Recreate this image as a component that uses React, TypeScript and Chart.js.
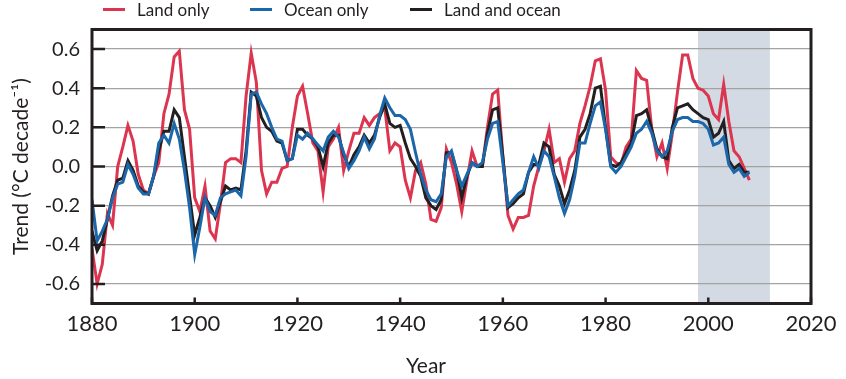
import { useEffect, useRef } from "react";
import { Chart, registerables } from "chart.js";

Chart.register(...registerables);

// ---- data (annual trend values, °C per decade) ----
const FIRST_YEAR = 1880;

const LAND_ONLY = [
  -0.42, -0.6, -0.5, -0.24, -0.3, 0.0, 0.1, 0.21, 0.13, -0.04,
  -0.12, -0.14, -0.05, 0.02, 0.27, 0.37, 0.56, 0.59, 0.29, 0.19,
  -0.16, -0.23, -0.1, -0.33, -0.37, -0.19, 0.02, 0.04, 0.04, 0.02,
  0.36, 0.58, 0.43, -0.02, -0.14, -0.08, -0.08, -0.01, 0.0, 0.2,
  0.36, 0.41, 0.27, 0.12, 0.08, -0.13, 0.1, 0.14, 0.2, -0.02,
  0.08, 0.17, 0.17, 0.25, 0.21, 0.25, 0.27, 0.3, 0.08, 0.12,
  0.1, -0.07, -0.16, -0.02, 0.02, -0.09, -0.27, -0.28, -0.21, 0.09,
  0.02, -0.09, -0.23, -0.07, 0.08, 0.0, 0.0, 0.2, 0.37, 0.39,
  0.05, -0.25, -0.32, -0.26, -0.26, -0.25, -0.1, 0.0, 0.08, 0.19,
  0.02, 0.04, -0.08, 0.04, 0.08, 0.22, 0.31, 0.41, 0.54, 0.55,
  0.39, 0.05, 0.02, 0.01, 0.1, 0.14, 0.49, 0.45, 0.44, 0.19,
  0.05, 0.12, -0.01, 0.17, 0.38, 0.57, 0.57, 0.45, 0.4, 0.39,
  0.36, 0.27, 0.24, 0.42, 0.23, 0.08, 0.05, -0.01, -0.07,
];

const OCEAN_ONLY = [
  -0.17, -0.38, -0.33, -0.27, -0.16, -0.09, -0.08, 0.01, -0.04, -0.11,
  -0.14, -0.14, -0.05, 0.12, 0.16, 0.12, 0.22, 0.14, -0.02, -0.21,
  -0.45, -0.31, -0.16, -0.23, -0.25, -0.16, -0.14, -0.13, -0.12, -0.15,
  0.05, 0.37, 0.38, 0.32, 0.27, 0.2, 0.14, 0.13, 0.03, 0.04,
  0.16, 0.14, 0.17, 0.14, 0.11, 0.08, 0.15, 0.18, 0.15, 0.07,
  -0.01, 0.03, 0.08, 0.15, 0.09, 0.14, 0.26, 0.35, 0.3, 0.26,
  0.26, 0.24, 0.19, 0.07, -0.04, -0.12, -0.17, -0.18, -0.14, 0.05,
  0.08, -0.02, -0.1, -0.04, 0.02, 0.0, 0.02, 0.14, 0.22, 0.23,
  0.02, -0.2, -0.17, -0.14, -0.12, -0.03, 0.05, -0.01, 0.08, 0.05,
  -0.05, -0.16, -0.24, -0.17, -0.05, 0.12, 0.12, 0.22, 0.31, 0.33,
  0.19, 0.0, -0.03, 0.0, 0.05, 0.1, 0.17, 0.19, 0.23, 0.17,
  0.08, 0.05, 0.08, 0.18, 0.24, 0.25, 0.25, 0.23, 0.23, 0.22,
  0.19, 0.11, 0.12, 0.15, 0.01, -0.03, -0.01, -0.05, -0.03,
];

const LAND_AND_OCEAN = [
  -0.33, -0.43, -0.38, -0.27, -0.15, -0.07, -0.06, 0.03, -0.02, -0.1,
  -0.13, -0.14, -0.05, 0.08, 0.18, 0.18, 0.29, 0.25, 0.05, -0.15,
  -0.35, -0.26, -0.16, -0.2, -0.26, -0.18, -0.1, -0.12, -0.11, -0.12,
  0.08, 0.38, 0.36, 0.25, 0.2, 0.18, 0.13, 0.12, 0.03, 0.04,
  0.19, 0.19, 0.16, 0.14, 0.1, 0.0, 0.12, 0.16, 0.16, 0.06,
  0.0, 0.06, 0.1, 0.16, 0.12, 0.16, 0.25, 0.32, 0.22, 0.2,
  0.21, 0.12, 0.04, 0.0, -0.05, -0.16, -0.2, -0.22, -0.17, 0.07,
  0.07, -0.02, -0.16, -0.05, 0.02, 0.0, 0.0, 0.17, 0.29, 0.3,
  0.05, -0.21, -0.19, -0.16, -0.14, -0.03, 0.01, 0.01, 0.12, 0.1,
  -0.04, -0.1, -0.19, -0.12, -0.02, 0.15, 0.19, 0.27, 0.4, 0.41,
  0.2, 0.01, 0.0, 0.02, 0.07, 0.12, 0.26, 0.27, 0.29, 0.19,
  0.09, 0.05, 0.04, 0.2, 0.3, 0.31, 0.32, 0.29, 0.27, 0.25,
  0.24, 0.15, 0.17, 0.23, 0.03, -0.01, 0.01, -0.03, -0.03,
];

const SERIES_LABELS = ["Land only", "Ocean only", "Land and ocean"];
const X_TICKS = [1880, 1900, 1920, 1940, 1960, 1980, 2000, 2020];
const Y_TICKS = [-0.6, -0.4, -0.2, 0.0, 0.2, 0.4, 0.6];
const SHADE_YEARS = [1998, 2012];
const Y_TITLE = "Trend (°C decade⁻¹)";
const X_TITLE = "Year";

// ---- styles ----
const RED = "#dc3550";
const BLUE = "#1c66aa";
const BLACK = "#231f20";
const TEXT = "#231f20";
const GRID = "#a3a3a3";
const SHADE = "#d3dae3";
const FONT = "Lato";

const toPoints = (vals: number[]) => vals.map((v, i) => ({ x: FIRST_YEAR + i, y: v }));

const decorPlugin = {
  id: "decor",
  beforeDraw(chart: any) {
    const { ctx, chartArea: a, scales } = chart;
    const x = scales.x;
    const x0 = x.getPixelForValue(SHADE_YEARS[0]);
    const x1 = x.getPixelForValue(SHADE_YEARS[1]);
    ctx.save();
    ctx.fillStyle = SHADE;
    ctx.fillRect(x0, a.top, x1 - x0, a.bottom - a.top);
    ctx.restore();
  },
  afterDraw(chart: any) {
    const { ctx, chartArea: a, scales } = chart;
    const x = scales.x;
    const y = scales.y;
    ctx.save();
    // frame
    ctx.strokeStyle = BLACK;
    ctx.lineWidth = 3;
    ctx.strokeRect(a.left, a.top, a.right - a.left, a.bottom - a.top);
    // inner tick marks
    ctx.lineWidth = 2.5;
    ctx.beginPath();
    Y_TICKS.forEach((v) => {
      const py = y.getPixelForValue(v);
      ctx.moveTo(a.left, py);
      ctx.lineTo(a.left + 13, py);
    });
    X_TICKS.forEach((v) => {
      const px = x.getPixelForValue(v);
      ctx.moveTo(px, a.bottom);
      ctx.lineTo(px, a.bottom - 6);
    });
    ctx.stroke();

    // legend
    const colors = [RED, BLUE, BLACK];
    const starts = [103, 250, 410];
    ctx.font = `17px ${FONT}`;
    ctx.textBaseline = "middle";
    ctx.textAlign = "left";
    SERIES_LABELS.forEach((label, i) => {
      ctx.strokeStyle = colors[i];
      ctx.lineWidth = 3;
      ctx.beginPath();
      ctx.moveTo(starts[i], 9.5);
      ctx.lineTo(starts[i] + 22, 9.5);
      ctx.stroke();
      ctx.fillStyle = TEXT;
      ctx.fillText(label, starts[i] + 34, 11);
    });

    // axis titles
    ctx.font = `21px ${FONT}`;
    ctx.fillStyle = TEXT;
    ctx.textAlign = "center";
    ctx.fillText(X_TITLE, 426, 366);
    ctx.translate(21, (a.top + a.bottom) / 2);
    ctx.rotate(-Math.PI / 2);
    ctx.fillText(Y_TITLE, 0, 0);
    ctx.restore();
  },
};

export default function App() {
  const ref = useRef<HTMLCanvasElement>(null);
  useEffect(() => {
    document.body.style.margin = "0";
    const canvas = ref.current;
    if (!canvas) return;
    const chart = new Chart(canvas, {
      type: "line",
      data: {
        datasets: [
          {
            label: SERIES_LABELS[1],
            data: toPoints(OCEAN_ONLY),
            borderColor: BLUE,
            backgroundColor: BLUE,
            borderWidth: 3,
            pointRadius: 0,
            tension: 0,
            order: 0,
          },
          {
            label: SERIES_LABELS[2],
            data: toPoints(LAND_AND_OCEAN),
            borderColor: BLACK,
            backgroundColor: BLACK,
            borderWidth: 3,
            pointRadius: 0,
            tension: 0,
            order: 1,
          },
          {
            label: SERIES_LABELS[0],
            data: toPoints(LAND_ONLY),
            borderColor: RED,
            backgroundColor: RED,
            borderWidth: 3,
            pointRadius: 0,
            tension: 0,
            order: 2,
          },
        ],
      },
      options: {
        responsive: false,
        animation: false,
        layout: { padding: { top: 29.5, right: 35, left: 0, bottom: 0 } },
        plugins: {
          legend: { display: false },
          tooltip: { enabled: false },
        },
        scales: {
          x: {
            type: "linear",
            min: 1880,
            max: 2020,
            afterBuildTicks: (s: any) => {
              s.ticks = X_TICKS.map((v) => ({ value: v }));
            },
            afterFit: (s: any) => {
              s.height = 75.5;
            },
            grid: { display: false, drawTicks: false },
            border: { display: false },
            ticks: {
              padding: 7,
              color: TEXT,
              font: { family: FONT, size: 22 },
              maxRotation: 0,
              callback: (v: any) => String(v),
            },
          },
          y: {
            type: "linear",
            min: -0.7,
            max: 0.7,
            afterBuildTicks: (s: any) => {
              s.ticks = Y_TICKS.map((v) => ({ value: v }));
            },
            afterFit: (s: any) => {
              s.width = 92;
            },
            grid: { color: GRID, lineWidth: 1.3, drawTicks: false },
            border: { display: false },
            ticks: {
              padding: 12,
              color: TEXT,
              font: { family: FONT, size: 20 },
              callback: (v: any) => Number(v).toFixed(1),
            },
          },
        },
      },
      plugins: [decorPlugin],
    } as any);
    return () => chart.destroy();
  }, []);
  return (
    <div style={{ width: 846, height: 379 }}>
      <canvas ref={ref} width={846} height={379} style={{ display: "block" }} />
    </div>
  );
}
